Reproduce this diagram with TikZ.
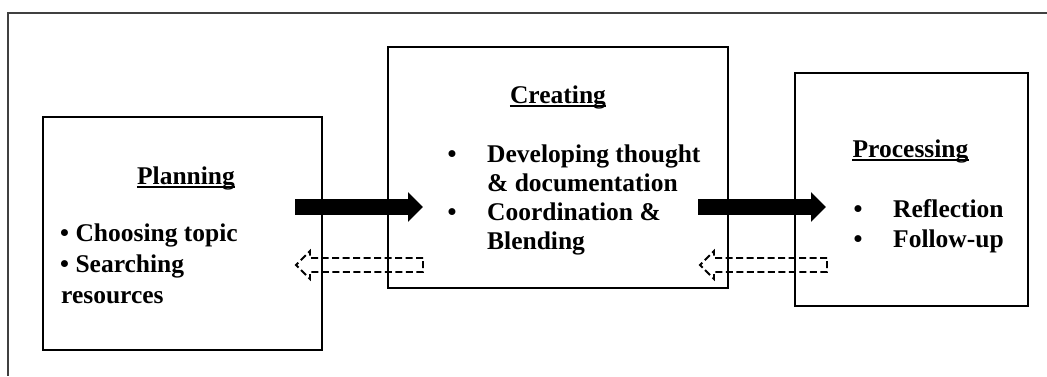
\documentclass[tikz,border=0pt]{standalone}
\usepackage{fontspec}
\setmainfont{Liberation Serif}
\usetikzlibrary{arrows.meta}

\begin{document}
\begin{tikzpicture}[x=1pt, y=-1pt,
    box/.style = {draw, line width=1.2pt, inner sep=0pt},
    txt/.style = {font=\fontsize{25.5}{30}\selectfont\bfseries, inner sep=0pt},
    fat/.style = {line width=16pt, -{Triangle[length=15pt, width=29pt]}},
    hollow/.style = {line width=1.8pt, dash pattern=on 7pt off 3.5pt}]
    % Disegna la cornice e i riquadri

    \useasboundingbox (0,0) rectangle (1047,376);
    \draw[line width=1.8pt, black!75] (1047,13) -- (8,13) -- (8,376);

    \node[box, minimum width=279pt, minimum height=233pt] (plan) at (182.5,233.5) {};
    \node[box, minimum width=340pt, minimum height=241pt] (create) at (558,167.5) {};
    \node[box, minimum width=233pt, minimum height=233pt] (proc) at (911.5,189.5) {};

    \node[txt, anchor=base] (plantitle) at (186,184) {Planning};
    \node[txt, anchor=base west] (plan1) at (60,241) {\textbullet\ Choosing topic};
    \node[txt, anchor=base west] (plan2) at (60,272) {\textbullet\ Searching};
    \node[txt, anchor=base west] (plan3) at (61,303) {resources};

    \node[txt, anchor=base] (createtitle) at (558,103) {Creating};
    \node[txt, anchor=base] (bul1) at (452,162) {\textbullet};
    \node[txt, anchor=base west] (create1) at (487,162) {Developing thought};
    \node[txt, anchor=base west] (create2) at (487,191) {\& documentation};
    \node[txt, anchor=base] (bul2) at (452,220) {\textbullet};
    \node[txt, anchor=base west] (create3) at (487,220) {Coordination \&};
    \node[txt, anchor=base west] (create4) at (487,249) {Blending};

    \node[txt, anchor=base] (proctitle) at (910.5,157) {Processing};
    \node[txt, anchor=base] (bul3) at (858,217) {\textbullet};
    \node[txt, anchor=base west] (proc1) at (893,217) {Reflection};
    \node[txt, anchor=base] (bul4) at (858,247) {\textbullet};
    \node[txt, anchor=base west] (proc2) at (893,247) {Follow-up};

    \draw[line width=1.6pt] ([yshift=-3pt]plantitle.base west) -- ([yshift=-3pt]plantitle.base east);
    \draw[line width=1.6pt] ([yshift=-3pt]createtitle.base west) -- ([yshift=-3pt]createtitle.base east);
    \draw[line width=1.6pt] ([yshift=-3pt]proctitle.base west) -- ([yshift=-3pt]proctitle.base east);

    % Frecce
    \coordinate (go1) at (295,207);
    \coordinate (go2) at (423,207);
    \coordinate (go3) at (698,207);
    \coordinate (go4) at (826,207);
    \draw[fat] (go1) -- (go2);
    \draw[fat] (go3) -- (go4);

    \coordinate (back1) at (423,265);
    \coordinate (back2) at (827,265);
    \draw[hollow] (back1) ++(0,-7) -- ++(-113,0) -- ++(0,-7) -- ++(-14,14) -- ++(14,14) -- ++(0,-7) -- ++(113,0) -- cycle;
    \draw[hollow] (back2) ++(0,-7) -- ++(-113,0) -- ++(0,-7) -- ++(-14,14) -- ++(14,14) -- ++(0,-7) -- ++(113,0) -- cycle;

\end{tikzpicture}
\end{document}
